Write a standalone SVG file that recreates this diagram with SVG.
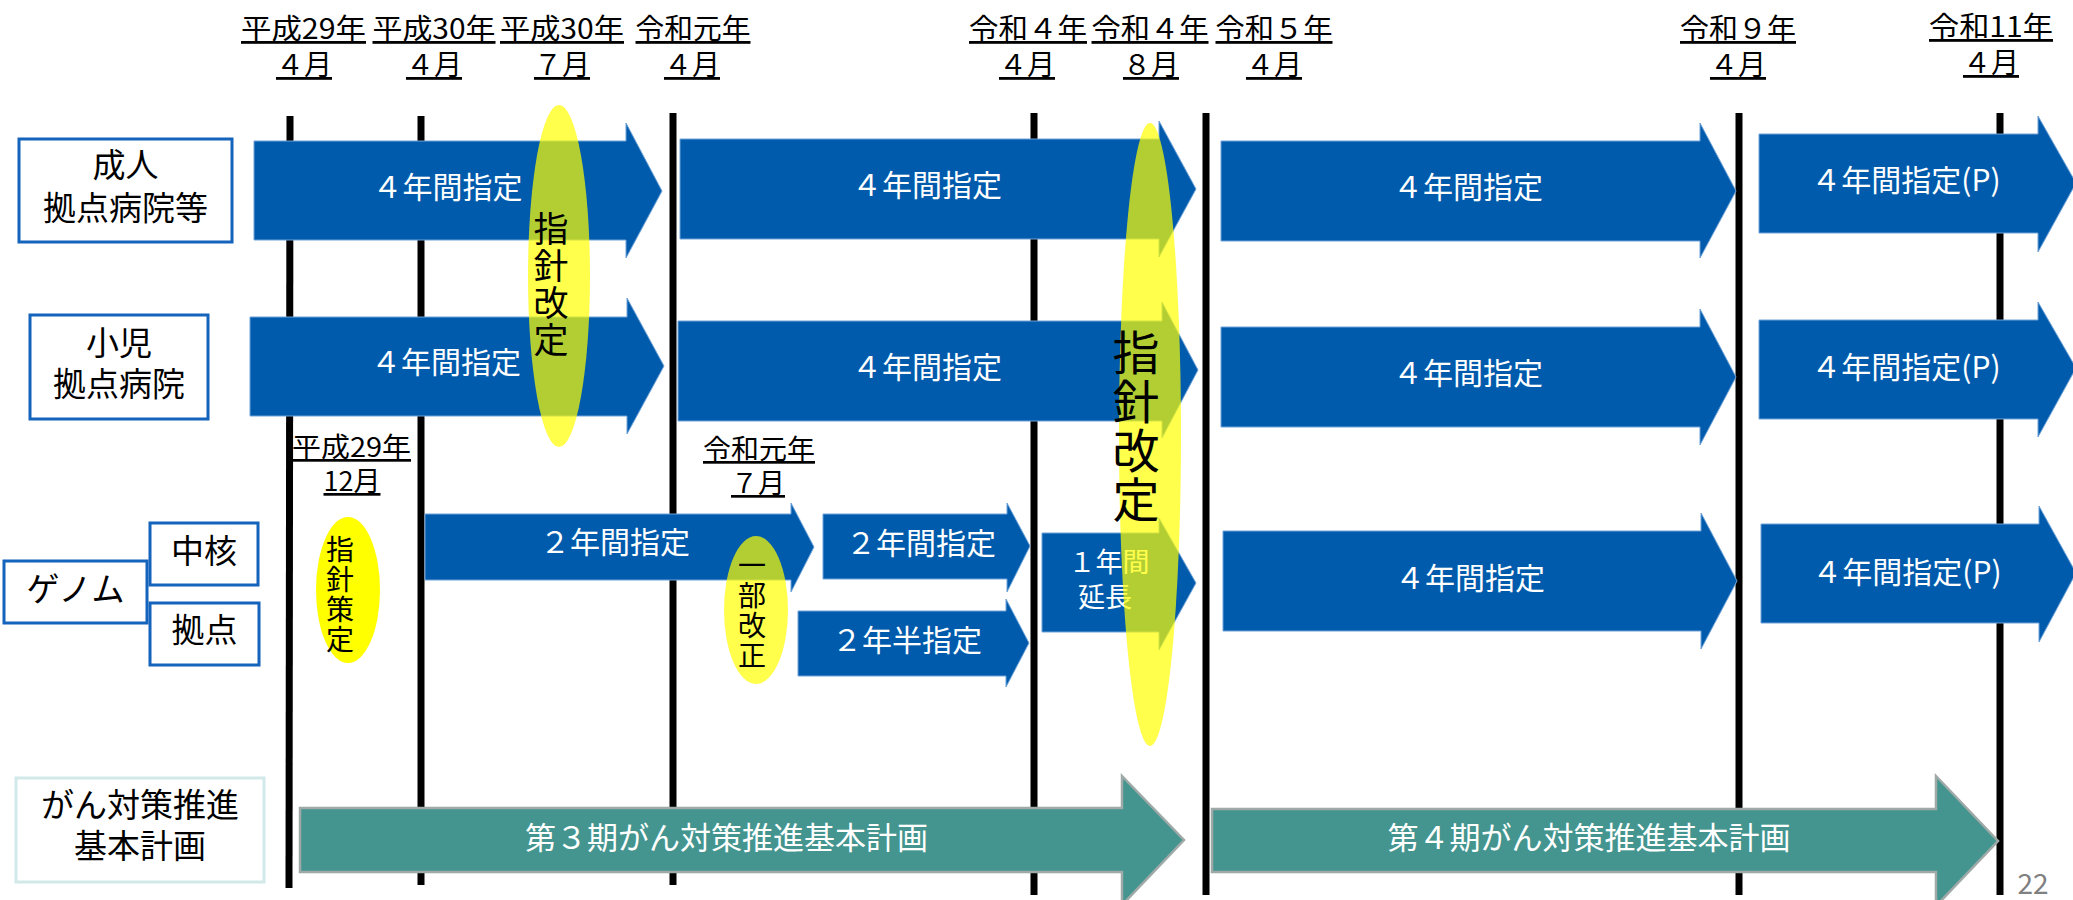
<svg xmlns="http://www.w3.org/2000/svg" width="2073" height="900" viewBox="0 0 2073 900">
<style>
text{font-family:"Noto Sans CJK JP","Noto Sans",sans-serif;}
.hd{font-size:28px;fill:#000;text-anchor:middle;text-decoration:underline;}
.md{font-size:27px;fill:#000;text-anchor:middle;text-decoration:underline;}
.lbl{font-size:33px;fill:#000;text-anchor:middle;}
.wt{font-size:30px;fill:#fff;text-anchor:middle;}
.wt2{font-size:27px;fill:#fff;text-anchor:middle;}
.tl{font-size:31px;fill:#fff;text-anchor:middle;}
.vline{stroke:#000;stroke-width:7;}
.blue{fill:#005BAC;stroke:#6FA3D8;stroke-width:1;}
.teal{fill:#44958F;stroke:#9FA9A8;stroke-width:2.5;}
.box{fill:#fff;stroke:#1463BC;stroke-width:3;}
.box2{fill:#fff;stroke:#D2E9EA;stroke-width:3;}
.ylw{fill:#FFFF00;opacity:0.7;}
.ylws{fill:#FFFF00;}
.vt{fill:#000;text-anchor:middle;}
</style>

<g id="timeline-lines">
<line class="vline" x1="290" y1="116" x2="289" y2="888"/>
<line class="vline" x1="421" y1="116" x2="421" y2="885"/>
<line class="vline" x1="673" y1="113" x2="673" y2="885"/>
<line class="vline" x1="1034" y1="113" x2="1034" y2="895"/>
<line class="vline" x1="1206" y1="113" x2="1206" y2="895"/>
<line class="vline" x1="1739" y1="113" x2="1739" y2="895"/>
<line class="vline" x1="2000" y1="113" x2="2000" y2="895"/>
</g>

<g id="headers">
<text class="hd" x="303.5" y="39" textLength="125" lengthAdjust="spacingAndGlyphs">平成29年</text>
<text class="hd" x="304" y="75">４月</text>
<text class="hd" x="434" y="39" textLength="123" lengthAdjust="spacingAndGlyphs">平成30年</text>
<text class="hd" x="434" y="75">４月</text>
<text class="hd" x="562" y="39" textLength="124" lengthAdjust="spacingAndGlyphs">平成30年</text>
<text class="hd" x="562" y="75">７月</text>
<text class="hd" x="693" y="39" textLength="115" lengthAdjust="spacingAndGlyphs">令和元年</text>
<text class="hd" x="692" y="75">４月</text>
<text class="hd" x="1028" y="39" textLength="118" lengthAdjust="spacingAndGlyphs">令和４年</text>
<text class="hd" x="1027" y="75">４月</text>
<text class="hd" x="1150" y="39" textLength="117" lengthAdjust="spacingAndGlyphs">令和４年</text>
<text class="hd" x="1151" y="75">８月</text>
<text class="hd" x="1274" y="39" textLength="117" lengthAdjust="spacingAndGlyphs">令和５年</text>
<text class="hd" x="1274" y="75">４月</text>
<text class="hd" x="1738" y="39" textLength="116" lengthAdjust="spacingAndGlyphs">令和９年</text>
<text class="hd" x="1738" y="75">４月</text>
<text class="hd" x="1991" y="37" textLength="124" lengthAdjust="spacingAndGlyphs">令和11年</text>
<text class="hd" x="1991" y="73">４月</text>
<text class="md" x="351.5" y="457" textLength="119" lengthAdjust="spacingAndGlyphs">平成29年</text>
<text class="md" x="352" y="491">12月</text>
<text class="md" x="759" y="459" textLength="112" lengthAdjust="spacingAndGlyphs">令和元年</text>
<text class="md" x="758" y="493">７月</text>
</g>

<g id="row-labels">
<g id="node-seijin"><rect class="box" x="19" y="139" width="213" height="103"/><text class="lbl" x="125.5" y="177">成人</text><text class="lbl" x="125.5" y="220">拠点病院等</text></g>
<g id="node-shoni"><rect class="box" x="30" y="315" width="178" height="104"/><text class="lbl" x="119" y="355">小児</text><text class="lbl" x="119" y="396">拠点病院</text></g>
<g id="node-genome"><rect class="box" x="4" y="561" width="143" height="62"/><text class="lbl" x="75.5" y="601">ゲノム</text></g>
<g id="node-chukaku"><rect class="box" x="150" y="523" width="108" height="62"/><text class="lbl" x="204" y="563">中核</text></g>
<g id="node-kyoten"><rect class="box" x="150" y="603" width="109" height="62"/><text class="lbl" x="204.5" y="642">拠点</text></g>
<g id="node-plan"><rect class="box2" x="16" y="778" width="248" height="104"/><text class="lbl" x="140" y="817">がん対策推進</text><text class="lbl" x="140" y="858">基本計画</text></g>
</g>

<g id="connectors">
<g id="a-r1-1"><polygon class="blue" points="254,141 626,141 626,123 662,191 626,258 626,240 254,240"/><text class="wt" x="447.5" y="198">４年間指定</text></g>
<g id="a-r2-1"><polygon class="blue" points="250,317 627,317 627,298 664,366 627,434 627,416 250,416"/><text class="wt" x="446" y="373">４年間指定</text></g>
<g id="a-r1-2"><polygon class="blue" points="680,139 1159,139 1159,121 1196,189 1159,257 1159,239 680,239"/><text class="wt" x="927" y="196">４年間指定</text></g>
<g id="a-r2-2"><polygon class="blue" points="678,321 1162,321 1162,302 1198,370 1162,438 1162,421 678,421"/><text class="wt" x="927" y="378">４年間指定</text></g>
<g id="a-r1-3"><polygon class="blue" points="1221,141 1700,141 1700,123 1736,191 1700,258 1700,241 1221,241"/><text class="wt" x="1468" y="198">４年間指定</text></g>
<g id="a-r2-3"><polygon class="blue" points="1221,327 1700,327 1700,309 1736,377 1700,445 1700,427 1221,427"/><text class="wt" x="1468" y="384">４年間指定</text></g>
<g id="a-r3-3"><polygon class="blue" points="1223,531 1701,531 1701,513 1737,581 1701,649 1701,631 1223,631"/><text class="wt" x="1470" y="589">４年間指定</text></g>
<g id="a-r1-4"><polygon class="blue" points="1759,134 2038,134 2038,116 2076,183 2038,252 2038,233 1759,233"/><text class="wt" x="1906" y="191">４年間指定(P)</text></g>
<g id="a-r2-4"><polygon class="blue" points="1759,320 2038,320 2038,302 2076,368 2038,437 2038,419 1759,419"/><text class="wt" x="1906" y="378">４年間指定(P)</text></g>
<g id="a-r3-4"><polygon class="blue" points="1761,524 2039,524 2039,506 2076,573 2039,642 2039,623 1761,623"/><text class="wt" x="1907" y="583">４年間指定(P)</text></g>
<g id="a-g-1"><polygon class="blue" points="425,514 791,514 791,503 814,547 791,592 791,580 425,580"/><text class="wt" x="615" y="553">２年間指定</text></g>
<g id="a-g-2"><polygon class="blue" points="823,514 1007,514 1007,503 1030,546 1007,592 1007,579 823,579"/><text class="wt" x="921" y="554">２年間指定</text></g>
<g id="a-g-3"><polygon class="blue" points="798,611 1006,611 1006,599 1029,643 1006,687 1006,676 798,676"/><text class="wt" x="907" y="651">２年半指定</text></g>
<g id="a-g-4"><polygon class="blue" points="1042,533 1159,533 1159,518 1196,583 1159,650 1159,632 1042,632"/><text class="wt2" x="1109" y="572">１年間</text><text class="wt2" x="1105" y="607">延長</text></g>
<g id="a-plan-3"><polygon class="teal" points="300,808 1122,808 1122,776 1184,840 1122,905 1122,872 300,872"/><text class="tl" x="726.5" y="849">第３期がん対策推進基本計画</text></g>
<g id="a-plan-4"><polygon class="teal" points="1212,809 1936,809 1936,776 1998,841 1936,906 1936,872 1212,872"/><text class="tl" x="1589" y="849">第４期がん対策推進基本計画</text></g>
</g>

<g id="event-h30">
<ellipse class="ylw" cx="559" cy="276" rx="31" ry="171"/>
<text class="vt" font-size="35"><tspan x="551" y="242">指</tspan><tspan x="551" y="279">針</tspan><tspan x="551" y="316">改</tspan><tspan x="551" y="353">定</tspan></text>
</g>
<g id="event-r4">
<ellipse class="ylw" cx="1150" cy="434.5" rx="31" ry="311.5"/>
<text class="vt" font-size="47"><tspan x="1136" y="370">指</tspan><tspan x="1136" y="419">針</tspan><tspan x="1136" y="468">改</tspan><tspan x="1136" y="517">定</tspan></text>
</g>
<g id="event-h29">
<ellipse class="ylws" cx="348" cy="590" rx="32" ry="73"/>
<text class="vt" font-size="28"><tspan x="340" y="560">指</tspan><tspan x="340" y="590">針</tspan><tspan x="340" y="620">策</tspan><tspan x="340" y="650">定</tspan></text>
</g>
<g id="event-r1">
<ellipse class="ylw" cx="756" cy="610" rx="32" ry="74"/>
<text class="vt" font-size="28"><tspan x="752" y="576">一</tspan><tspan x="752" y="606">部</tspan><tspan x="752" y="636">改</tspan><tspan x="752" y="666">正</tspan></text>
</g>

<text x="2033" y="894" font-size="28" fill="#808080" text-anchor="middle">22</text>
</svg>
